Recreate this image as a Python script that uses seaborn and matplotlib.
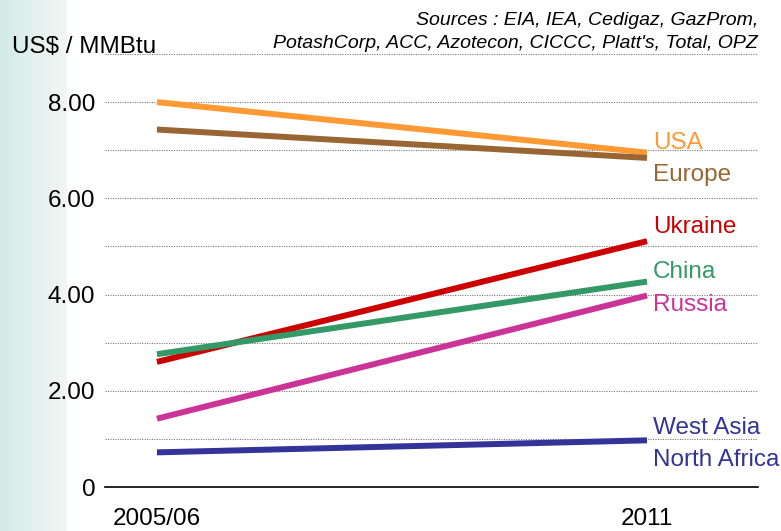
import numpy as np
import pandas as pd
import matplotlib
matplotlib.use("Agg")
import matplotlib.pyplot as plt
import seaborn as sns

# data
periods = ["2005/06", "2011"]
regions = ["USA", "Europe", "Ukraine", "China", "Russia", "West Asia\nNorth Africa"]
start = [8.00, 7.43, 2.60, 2.76, 1.42, 0.72]
end = [6.95, 6.84, 5.11, 4.27, 3.98, 0.97]
colors = ["#FF9933", "#996633", "#CC0000", "#339966", "#CC3399", "#333399"]
yticks = [0, 2, 4, 6, 8]
ytick_labels = ["0", "2.00", "4.00", "6.00", "8.00"]

sns.set_theme(style="white")
plt.rcParams["font.family"] = ["Liberation Sans", "DejaVu Sans"]
plt.rcParams["text.color"] = "black"
plt.rcParams["xtick.color"] = "black"
plt.rcParams["ytick.color"] = "black"

rows = []
for r, a, b in zip(regions, start, end):
    rows.append({"region": r, "x": 0, "value": a})
    rows.append({"region": r, "x": 1, "value": b})
df = pd.DataFrame(rows)

fig = plt.figure(figsize=(7.81, 5.31), dpi=100)

# pale teal swoosh on the left edge
bg = fig.add_axes([0, 0, 0.085, 1])
grad = np.linspace(0.35, 1, 64)[None, :]
bg.imshow(grad, aspect="auto", cmap=sns.light_palette("#A8DCCF", as_cmap=True, reverse=True),
          extent=[0, 1, 0, 1], vmin=0, vmax=1, alpha=0.7)
bg.axis("off")

ax = fig.add_axes([105 / 781, 44 / 531, 653 / 781, 433 / 531])
ax.patch.set_alpha(0)

for y in range(1, 10):
    ax.axhline(y, color="#777777", lw=0.8, ls=(0, (1, 1.2)), zorder=0)

sns.lineplot(data=df, x="x", y="value", hue="region", palette=colors,
             linewidth=4.3, legend=False, ax=ax, solid_capstyle="butt")

ax.set_xlim(-0.106, 1.2265)
ax.set_ylim(0, 9)
ax.set_yticks(yticks)
ax.set_yticklabels(ytick_labels, fontsize=17.5)
ax.set_xticks([0, 1])
ax.set_xticklabels(periods, fontsize=17.5)
ax.tick_params(axis="y", length=0, pad=7)
ax.tick_params(axis="x", length=0, pad=15)
ax.set_xlabel("")
ax.set_ylabel("")
for s in ["top", "right", "left"]:
    ax.spines[s].set_visible(False)
ax.spines["bottom"].set_color("black")
ax.spines["bottom"].set_linewidth(1.2)

# end labels
label_y = [7.15, 6.49, 5.41, 4.47, 3.78, 0.9]
names = ["USA", "Europe", "Ukraine", "China", "Russia", "West Asia\nNorth Africa"]
for n, yy, c in zip(names, label_y, colors):
    ax.text(1.012, yy, n, color=c, fontsize=17.5, va="center", ha="left",
            linespacing=1.6)

fig.text(12 / 781, 1 - 47 / 531, "US$ / MMBtu", fontsize=17.5, va="center", ha="left")
fig.text(758 / 781, 1 - 32 / 531,
         "Sources : EIA, IEA, Cedigaz, GazProm,\nPotashCorp, ACC, Azotecon, CICCC, Platt's, Total, OPZ",
         fontsize=14, style="italic", va="center", ha="right", linespacing=1.45)

fig.savefig("out.png", dpi=100)
